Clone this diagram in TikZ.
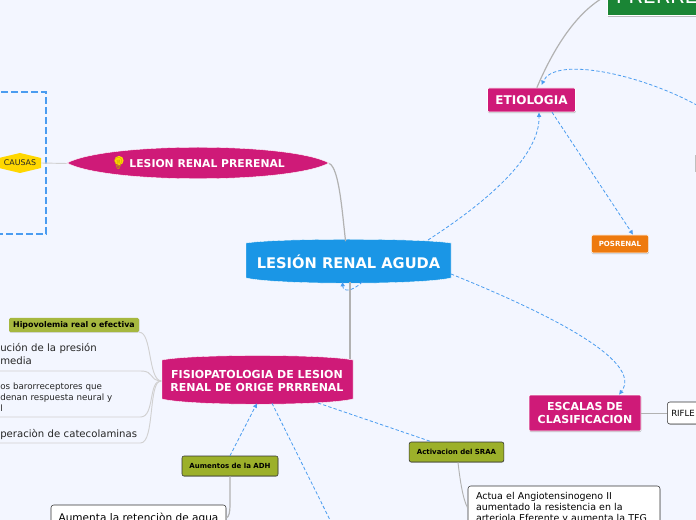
\documentclass[tikz,border=0pt]{standalone}
\usepackage{fontspec}
\setmainfont{DejaVu Sans}
\newfontfamily\emojifont{Noto Emoji}
\usetikzlibrary{shapes, arrows.meta, positioning, shadows, calc}
\definecolor{pagebg}{HTML}{F3F6FF}
\definecolor{rosa}{HTML}{CF1A78}
\definecolor{azul}{HTML}{1A96E6}
\definecolor{oliva}{HTML}{9CB02A}
\definecolor{verde}{HTML}{1A8535}
\definecolor{naranja}{HTML}{EE7A0E}
\definecolor{dorado}{HTML}{FFD700}
\definecolor{rayas}{HTML}{4A9CF0}
\tikzstyle{pinkbox}=[fill=rosa,draw=white,rounded corners=1pt,text=white,font=\fontsize{8.25}{9.75}\selectfont\bfseries,align=center,inner sep=0pt,drop shadow={shadow xshift=.2pt,shadow yshift=-.8pt,opacity=.5,fill=gray}]
\tikzstyle{olivebox}=[fill=oliva,draw=black!80,rounded corners=1.5pt,font=\fontsize{5.25}{7}\selectfont\bfseries,inner sep=0pt,drop shadow={shadow xshift=.2pt,shadow yshift=-.6pt,opacity=.4,fill=gray}]
\tikzstyle{whitebox}=[fill=white,draw=black!80,rounded corners=2pt,inner sep=0pt,align=left,drop shadow={shadow xshift=.2pt,shadow yshift=-.6pt,opacity=.3,fill=gray}]
\tikzstyle{plaintext}=[inner sep=0pt,text=black!85,align=left,anchor=south west]
\tikzstyle{graylink}=[draw=black!30,line width=.9pt]
\tikzstyle{treelink}=[draw=black!18,line width=.7pt]
\tikzstyle{dashlink}=[draw=rayas,dashed,dash pattern=on 2.5pt off 1.6pt,line width=.6pt]
\newcommand{\bulgefill}[7]{\fill[#7,draw=white,line width=.3pt] (#1,#4) .. controls ($(#1,#3)!.15!(#2,#3)$) and ($(#1,#3)!.85!(#2,#3)$) .. (#2,#4) -- (#2,#5) .. controls ($(#1,#6)!.85!(#2,#6)$) and ($(#1,#6)!.15!(#2,#6)$) .. (#1,#5) -- cycle;}
\begin{document}
\begin{tikzpicture}[x=.75pt,y=-.75pt,>={Latex[length=3.4pt,width=3.6pt]}]
    \useasboundingbox (0,0) rectangle (696,520);
    \clip (0,0) rectangle (696,520);
    \fill[pagebg] (0,0) rectangle (696,520);
    \bulgefill{246}{451}{238}{243}{278}{285}{azul}
    \bulgefill{162}{353}{354}{360}{399}{406}{rosa}
    \bulgefill{67}{329}{142}{163}{163}{184}{rosa}
    \fill[dorado] (20,153) -- (41,158) -- (41,168) -- (20,173) -- (-1,168) -- (-1,158) -- cycle;
    \fill[dorado] (119,160.5) circle (4.6);
    \node[minimum width=153.75pt,minimum height=30pt,inner sep=0pt,text=white,font=\fontsize{11}{12}\selectfont\bfseries] (central) at (348.5,261.5) {LESIÓN RENAL AGUDA};
    \node[minimum width=143.25pt,minimum height=33pt,inner sep=0pt,text=white,align=center,font=\fontsize{8.25}{9.75}\selectfont\bfseries] (fisio) at (257,381) {FISIOPATOLOGIA DE LESION\\RENAL DE ORIGE PRRRENAL};
    \node[minimum width=196.5pt,minimum height=12pt,inner sep=0pt,text=white,font=\fontsize{8.1}{10}\selectfont\bfseries] (prerenal) at (198,163.5) {{\emojifont\fontsize{8.6}{10}\selectfont\textcolor{dorado!75!black}{💡}} LESION RENAL PRERENAL};
    \node[minimum width=31.5pt,minimum height=15pt,inner sep=0pt,text=black!85,font=\fontsize{5.9}{7}\selectfont] (causas) at (20,163) {CAUSAS};
    \node[draw=rayas,dashed,dash pattern=on 5pt off 2.5pt,line width=.9pt,minimum width=60pt,minimum height=106.5pt,inner sep=0pt] (causasbox) at (6,163) {};
    \node[pinkbox,minimum width=66pt,minimum height=18pt,font=\fontsize{9}{10}\selectfont\bfseries] (etio) at (531.5,100) {ETIOLOGIA};
    \node[fill=naranja,draw=white,rounded corners=1pt,text=white,inner sep=0pt,minimum width=43pt,minimum height=13.5pt,font=\fontsize{5.3}{7}\selectfont\bfseries,drop shadow={shadow xshift=.2pt,shadow yshift=-.8pt,opacity=.5,fill=gray}] (posrenal) at (620,244) {POSRENAL};
    \node[fill=verde,draw=white,text=white,inner sep=0pt,minimum height=30pt,minimum width=90pt,anchor=west,font=\fontsize{15.5}{18}\selectfont,text width=90pt,drop shadow={shadow xshift=.2pt,shadow yshift=-.8pt,opacity=.5,fill=gray}] (verdebox) at (607,-4.5) {\hspace{6.5pt}\raisebox{-6pt}{PRERRE}};
    \node[pinkbox,minimum width=84pt,minimum height=27pt] (escalas) at (585,413) {ESCALAS DE\\CLASIFICACION};
    \node[whitebox,minimum width=40pt,minimum height=16.5pt,anchor=west,text width=34pt,font=\fontsize{6.4}{8}\selectfont] (rifle) at (667,413) {RIFLE};
    \node[olivebox,minimum width=72pt,minimum height=15pt] (adh) at (230,466) {Aumentos de la ADH};
    \node[olivebox,minimum width=71pt,minimum height=15pt] (sraa) at (456.5,452) {Activacion del SRAA};
    \node[fill=oliva!90!white,rounded corners=1pt,inner sep=0pt,minimum width=97.5pt,minimum height=10.5pt,font=\fontsize{5.9}{7}\selectfont\bfseries,drop shadow={shadow xshift=.2pt,shadow yshift=-.5pt,opacity=.35,fill=gray}] (hipo) at (74,325) {Hipovolemia real o efectiva};
    \node[plaintext,minimum width=105pt,text width=105pt,font=\fontsize{7.6}{9.8}\selectfont] (presion) at (0,371) {ución de la presión\\ media\rule[-4.8pt]{0pt}{4.8pt}};
    \node[plaintext,minimum width=105pt,text width=105pt,font=\fontsize{6.55}{8.4}\selectfont] (baro) at (0,417) {os barorreceptores que\\denan respuesta neural y\\ l\rule[-4pt]{0pt}{4pt}};
    \node[plaintext,minimum width=105pt,text width=105pt,font=\fontsize{7.6}{9.8}\selectfont] (cateco) at (0,443) {\mbox{peraciòn de catecolaminas}\rule[-4pt]{0pt}{4pt}};
    \node[whitebox,minimum width=131.25pt,minimum height=19.5pt,font=\fontsize{7.9}{9.8}\selectfont] (agua) at (138.5,518) {Aumenta la retenciòn de agua};
    \node[whitebox,minimum width=144pt,minimum height=33pt,text width=132pt,font=\fontsize{7.1}{8.25}\selectfont] (actua) at (564,508) {Actua el Angiotensinogeno II\\aumentado la resistencia en la\\arteriola Eferente y aumenta la TFG};
    \node[fill=white,draw=black!25,minimum width=6pt,minimum height=12pt,inner sep=0pt,anchor=west] (otro) at (695,163.5) {};
    \coordinate (offbottom) at (333,526);
    \coordinate (offright) at (702,108);
    \draw[graylink] (prerenal.east) .. controls (339,168) and (342,210) .. ([xshift=-2.2pt]central.north);
    \draw[graylink] ([xshift=1.1pt]central.south) -- ([xshift=1.1pt]central.south |- fisio.north);
    \draw[graylink] ([xshift=4pt]etio.north) .. controls (552,52) and (575,12) .. (verdebox.west);
    \draw[treelink] (causas.east) -- (prerenal.west);
    \draw[graylink,line width=.6pt] (escalas.east) -- (rifle.west);
    \draw[graylink] (adh.south) -- (230,505) .. controls (230,512) and (229,517) .. (agua.east);
    \draw[graylink,line width=.7pt] ([xshift=1.1pt]sraa.south) .. controls (460,480) and (463,500) .. (actua.west);
    \draw[treelink] (fisio.west) .. controls (148,380) and (152,332) .. (hipo.south east);
    \draw[treelink] (fisio.west) .. controls (148,380) and (155,371) .. (presion.south east) -- (presion.south west);
    \draw[treelink] (fisio.west) .. controls (148,380) and (155,417) .. (baro.south east) -- (baro.south west);
    \draw[treelink] (fisio.west) .. controls (148,380) and (155,443) .. (cateco.south east) -- (cateco.south west);
    \draw[dashlink,->] (428,240) .. controls (490,200) and (540,155) .. ([xshift=5.6pt]etio.south);
    \draw[dashlink,->] ([xshift=15.4pt]etio.south) -- ([xshift=9.8pt]posrenal.north);
    \draw[dashlink,->] (offright) .. controls (645,75) and (555,55) .. ([xshift=7.5pt,yshift=2pt]etio.north);
    \draw[dashlink,->] (451,274) .. controls (540,310) and (645,360) .. ([xshift=25.5pt]escalas.north);
    \draw[dashlink,->] ([xshift=10.5pt]central.south) .. controls (352,292) and (343,292) .. ([xshift=-4.5pt]central.south);
    \draw[dashlink,->] (adh.north) -- (fisio.south);
    \draw[dashlink] ([xshift=11.25pt]fisio.south) -- (offbottom);
    \draw[dashlink] (318,403) -- ([xshift=-18.75pt]sraa.north);
\end{tikzpicture}
\end{document}
